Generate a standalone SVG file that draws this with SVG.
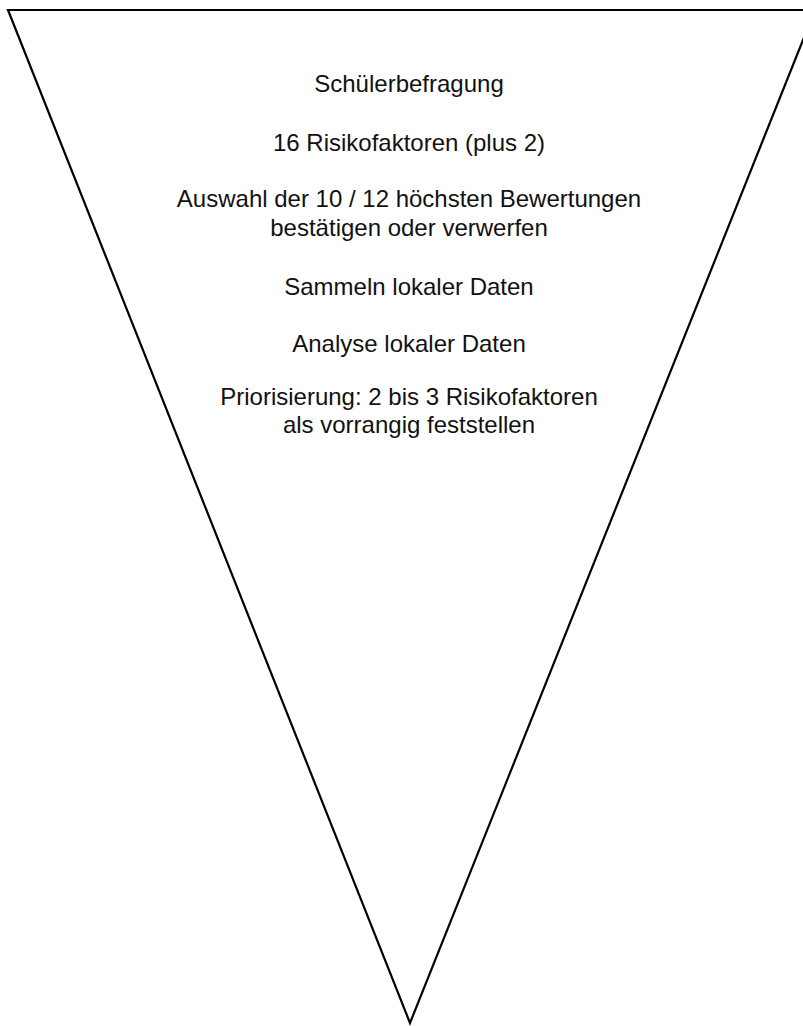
<svg xmlns="http://www.w3.org/2000/svg" width="803" height="1026" viewBox="0 0 803 1026">
<style>
.t{font-family:"Liberation Sans",Arial,sans-serif;font-size:24px;fill:#111;text-anchor:middle}
.f{fill:#fff;stroke:#000;stroke-width:2.2;stroke-linejoin:miter}
</style>
<rect width="803" height="1026" fill="#fff"/>
<g id="funnel">
<polygon class="f" points="8,10 815,10 410,1023"/>
</g>
<g id="labels">
<text class="t" x="409" y="92">Schülerbefragung</text>
<text class="t" x="409" y="151">16 Risikofaktoren (plus 2)</text>
<text class="t" x="409" y="207">Auswahl der 10 / 12 höchsten Bewertungen</text>
<text class="t" x="409" y="236">bestätigen oder verwerfen</text>
<text class="t" x="409" y="295">Sammeln lokaler Daten</text>
<text class="t" x="409" y="352">Analyse lokaler Daten</text>
<text class="t" x="409" y="405">Priorisierung: 2 bis 3 Risikofaktoren</text>
<text class="t" x="409" y="433">als vorrangig feststellen</text>
</g>
</svg>
